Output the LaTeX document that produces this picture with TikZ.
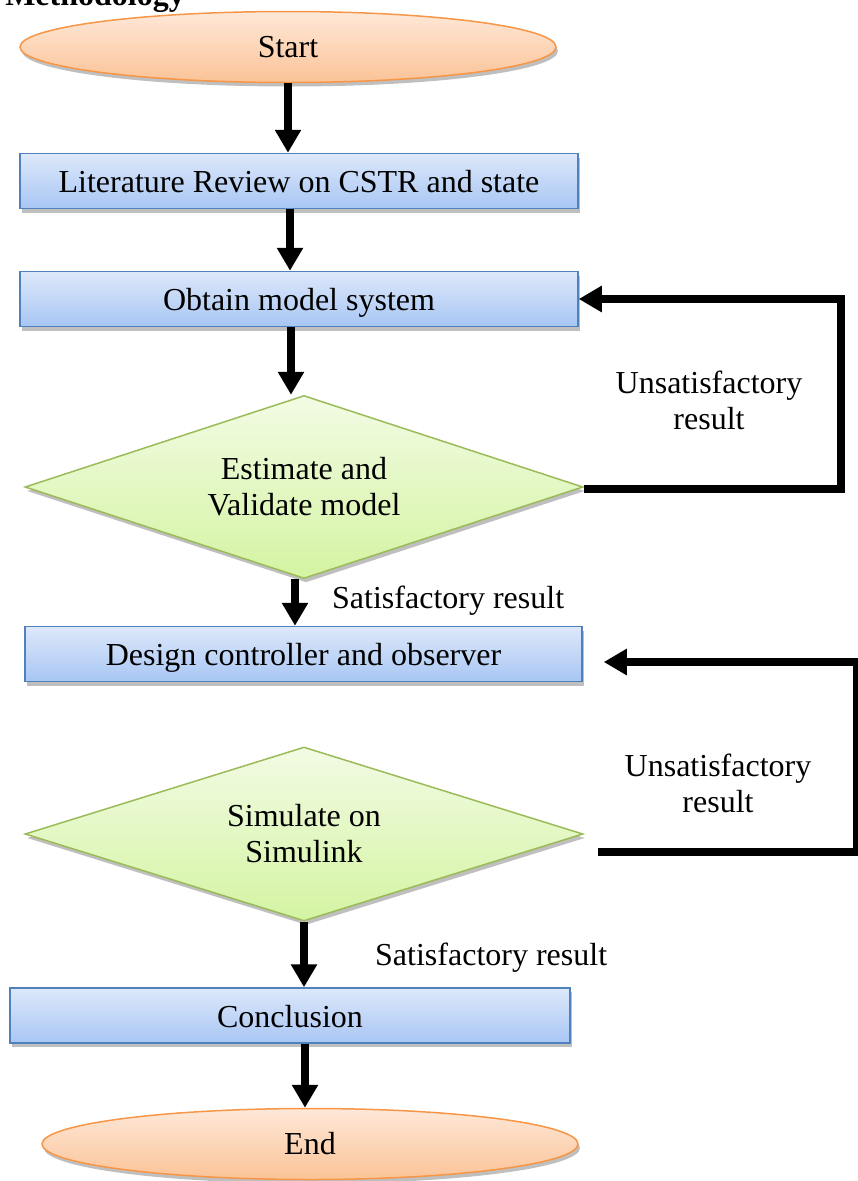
\documentclass[tikz,border=0pt]{standalone}
\usepackage{fontspec}
\setmainfont{Liberation Serif}
\usetikzlibrary{shapes.geometric,arrows.meta,shadows,calc}
\definecolor{orbd}{HTML}{F79646}
\definecolor{ortop}{HTML}{FEE8D8}
\definecolor{orbot}{HTML}{FBC397}
\definecolor{blbd}{HTML}{4F81BD}
\definecolor{bltop}{HTML}{DDE8FA}
\definecolor{blbot}{HTML}{A8C6F4}
\definecolor{grbd}{HTML}{9BBB59}
\definecolor{grtop}{HTML}{F2FBE4}
\definecolor{grbot}{HTML}{D4F4A2}
\tikzset{
  shad/.style={drop shadow={shadow xshift=2pt,shadow yshift=-4pt,opacity=0.25,fill=black}},
  term/.style={ellipse,draw=orbd,line width=1.5pt,top color=ortop,bottom color=orbot,
    minimum width=536pt,minimum height=71pt,inner sep=0pt,shad},
  procbox/.style={rectangle,draw=blbd,line width=1.5pt,top color=bltop,bottom color=blbot,
    minimum height=55pt,inner sep=0pt,text height=26pt,text depth=3pt,shad},
  decide/.style={diamond,draw=grbd,line width=1.5pt,top color=grtop,bottom color=grbot,
    aspect=3.05,minimum width=558pt,minimum height=183pt,inner sep=0pt,align=center,shad},
  arr/.style={line width=7.5pt,-{Triangle[width=25pt,length=23pt]}},
  lbl/.style={align=center,inner sep=0pt},
}
\begin{document}
\begin{tikzpicture}[x=1pt,y=-1pt,font=\fontsize{32}{36}\selectfont]
\useasboundingbox (0,0) rectangle (858,1181);
\node[anchor=base east,font=\fontsize{32}{36}\selectfont\bfseries,inner sep=0pt] (title) at (185,5) {Methodology};

\node[term] (start) at (288,47) {Start};
\node[procbox,minimum width=558pt] (lit) at (299,181) {Literature Review on CSTR and state};
\node[procbox,minimum width=558pt] (obt) at (299,299) {Obtain model system};
\node[decide] (d1) at (304,487) {Estimate and\\Validate model};
\node[procbox,minimum width=557pt] (des) at (303.5,654) {Design controller and observer};
\node[decide,aspect=3.2,minimum height=174pt] (d2) at (304,834) {Simulate on\\Simulink};
\node[procbox,minimum width=560pt] (con) at (290,1015.5) {Conclusion};
\node[term] (fin) at (310,1144) {End};

\node[lbl] (u1) at (709,400) {Unsatisfactory\\result};
\node[lbl] (u2) at (718,783) {Unsatisfactory\\result};
\node[lbl,anchor=west] (s1) at (332,601) {Satisfactory result};
\node[lbl,anchor=west] (s2) at (375,958) {Satisfactory result};

\draw[arr] (start.south) -- (start.south |- lit.north);
\draw[arr] ([xshift=-9pt]lit.south) -- ([xshift=-9pt]lit.south |- obt.north);
\draw[arr] ([xshift=-8pt]obt.south) -- ([xshift=-8pt]obt.south |- d1.north);
\draw[arr] ([xshift=-9pt]d1.south) -- ([xshift=-9pt]d1.south |- des.north);
\draw[arr] (d2.south) -- (d2.south |- con.north);
\draw[arr] ([xshift=15pt]con.south) -- ([xshift=15pt]con.south |- fin.north);

\coordinate (r1) at ([xshift=262pt]obt.east);
\draw[arr,line join=miter] ([yshift=-2pt]d1.east) -| (r1) -- (obt.east);

\coordinate (l2s) at ([xshift=14pt,yshift=-18pt]d2.east);
\coordinate (l2c) at ([xshift=274pt,yshift=-8pt]des.east);
\coordinate (l2e) at ([xshift=21pt,yshift=-8pt]des.east);
\draw[arr,line join=miter] (l2s) -| (l2c) -- (l2e);
\end{tikzpicture}
\end{document}
